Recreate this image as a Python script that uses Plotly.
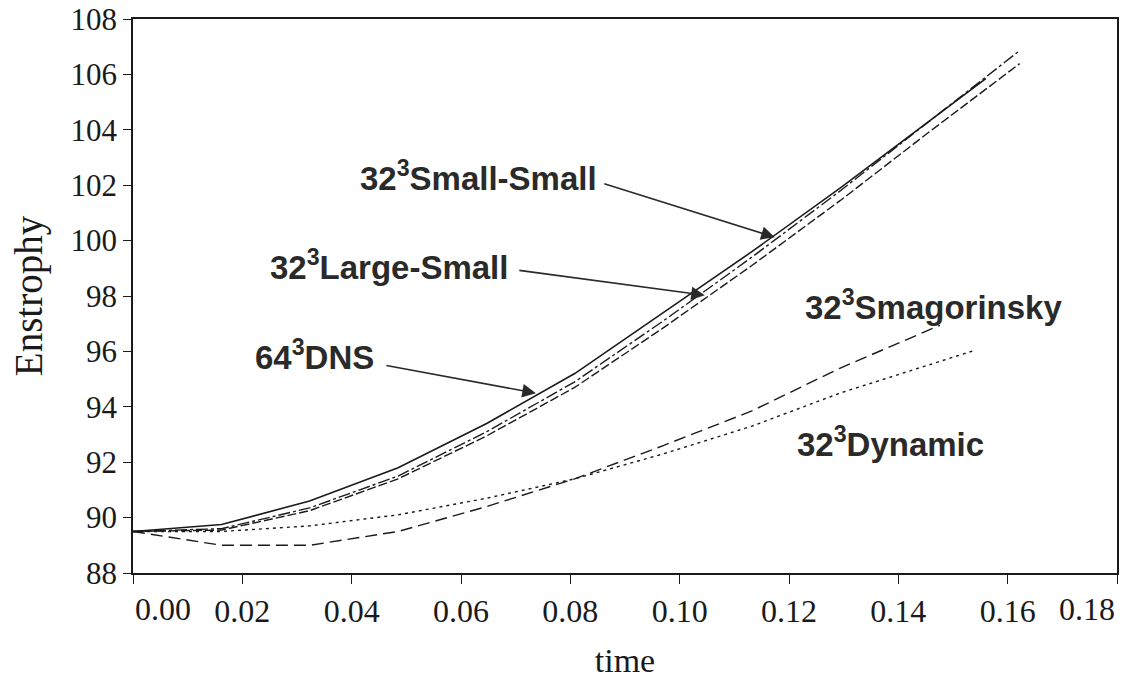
import plotly.graph_objects as go

# ---- data ----
t_dns = [0, 0.0162, 0.0323, 0.0485, 0.0647, 0.0808, 0.0970, 0.1132, 0.1294, 0.1455, 0.1560]
e_dns = [89.5, 89.75, 90.6, 91.8, 93.4, 95.2, 97.4, 99.6, 101.9, 104.3, 105.85]

t_sgs = [0, 0.0162, 0.0323, 0.0485, 0.0647, 0.0808, 0.0970, 0.1132, 0.1294, 0.1455, 0.1622]
e_small_small = [89.5, 89.6, 90.35, 91.5, 93.1, 94.9, 97.1, 99.4, 101.8, 104.3, 106.86]
e_large_small = [89.5, 89.55, 90.25, 91.4, 92.95, 94.7, 96.85, 99.1, 101.45, 103.9, 106.39]

t_smag = [0, 0.0162, 0.0323, 0.0485, 0.0647, 0.0808, 0.0970, 0.1132, 0.1294, 0.1476]
e_smag = [89.5, 89.0, 89.0, 89.5, 90.4, 91.4, 92.6, 93.85, 95.4, 96.94]

t_dyn = [0, 0.0162, 0.0323, 0.0485, 0.0647, 0.0808, 0.0970, 0.1132, 0.1294, 0.1540]
e_dyn = [89.5, 89.5, 89.7, 90.1, 90.7, 91.4, 92.3, 93.3, 94.5, 96.04]

x_ticks = [0.00, 0.02, 0.04, 0.06, 0.08, 0.10, 0.12, 0.14, 0.16, 0.18]
x_tick_labels = ["0.00", "0.02", "0.04", "0.06", "0.08", "0.10", "0.12", "0.14", "0.16", "0.18"]
y_ticks = [88, 90, 92, 94, 96, 98, 100, 102, 104, 106, 108]
y_tick_labels = [str(v) for v in y_ticks]

# label texts with their left anchor (data coords)
labels = [
    ("32<sup>3</sup>Small-Small", 0.0411, 102.35),
    ("32<sup>3</sup>Large-Small", 0.0247, 99.11),
    ("64<sup>3</sup>DNS", 0.0219, 95.86),
    ("32<sup>3</sup>Smagorinsky", 0.1226, 97.66),
    ("32<sup>3</sup>Dynamic", 0.1211, 92.72),
]
arrows = [  # head (t, E), tail offset in pixels
    (0.1174, 100.12, -172, -54),
    (0.1046, 98.03, -187, -25),
    (0.0737, 94.49, -151, -28),
]

INK = "#1a1a1a"
LABEL_INK = "#2a2a2a"
SERIF = "Liberation Serif"
SANS = "Liberation Sans"

fig = go.Figure()
fig.add_trace(go.Scatter(x=t_dns, y=e_dns, mode="lines", name="64^3 DNS",
                         line=dict(color=INK, width=1.6, dash="solid")))
fig.add_trace(go.Scatter(x=t_sgs, y=e_small_small, mode="lines", name="32^3 Small-Small",
                         line=dict(color=INK, width=1.4, dash="12px,3px,3px,3px")))
fig.add_trace(go.Scatter(x=t_sgs, y=e_large_small, mode="lines", name="32^3 Large-Small",
                         line=dict(color=INK, width=1.4, dash="9px,3px")))
fig.add_trace(go.Scatter(x=t_smag, y=e_smag, mode="lines", name="32^3 Smagorinsky",
                         line=dict(color=INK, width=1.4, dash="12px,6px")))
fig.add_trace(go.Scatter(x=t_dyn, y=e_dyn, mode="lines", name="32^3 Dynamic",
                         line=dict(color=INK, width=1.4, dash="3px,4px")))

annotations = []
for text, x, y in labels:
    annotations.append(dict(x=x, y=y, xref="x", yref="y", text="<b>" + text + "</b>",
                            showarrow=False, xanchor="left", yanchor="middle",
                            font=dict(family=SANS, size=33, color=LABEL_INK)))
for hx, hy, ax, ay in arrows:
    annotations.append(dict(x=hx, y=hy, xref="x", yref="y", text="", showarrow=True,
                            ax=ax, ay=ay, arrowhead=2, arrowsize=1.7, arrowwidth=1.6,
                            arrowcolor=LABEL_INK))
# end tick labels, shifted inward as in the reference
annotations.append(dict(x=x_ticks[0], y=0, xref="x", yref="paper", text=x_tick_labels[0],
                        showarrow=False, xanchor="left", yanchor="top", yshift=-16,
                        font=dict(family=SERIF, size=32, color=INK)))
annotations.append(dict(x=x_ticks[-1], y=0, xref="x", yref="paper", text=x_tick_labels[-1],
                        showarrow=False, xanchor="right", yanchor="top", yshift=-16,
                        font=dict(family=SERIF, size=32, color=INK)))

fig.update_layout(
    width=1127, height=687,
    margin=dict(l=133, r=10, t=19, b=114),
    paper_bgcolor="white", plot_bgcolor="white",
    showlegend=False,
    annotations=annotations,
    xaxis=dict(range=[0, 0.18], tickvals=x_ticks,
               ticktext=[""] + x_tick_labels[1:-1] + [""],
               ticks="outside", ticklen=9, tickwidth=1.3, tickcolor=INK,
               showline=True, linecolor=INK, linewidth=1.6, mirror=True,
               showgrid=False, zeroline=False, ticklabeloverflow="allow",
               tickfont=dict(family=SERIF, size=32, color=INK),
               title=dict(text="time", font=dict(family=SERIF, size=34, color=INK), standoff=20),
               automargin=False),
    yaxis=dict(range=[88, 108], tickvals=y_ticks, ticktext=y_tick_labels,
               ticks="outside", ticklen=8, tickwidth=1.3, tickcolor=INK,
               showline=True, linecolor=INK, linewidth=1.6, mirror=True,
               showgrid=False, zeroline=False, ticklabeloverflow="allow",
               tickfont=dict(family=SERIF, size=31, color=INK),
               title=dict(text="Enstrophy", font=dict(family=SERIF, size=39, color=INK), standoff=16),
               automargin=False),
)

# remove the browser's default 8px body margin so the figure fills the window exactly
fig.write_html("out.html", config={"displayModeBar": False},
               post_script="document.body.style.margin='0';")
